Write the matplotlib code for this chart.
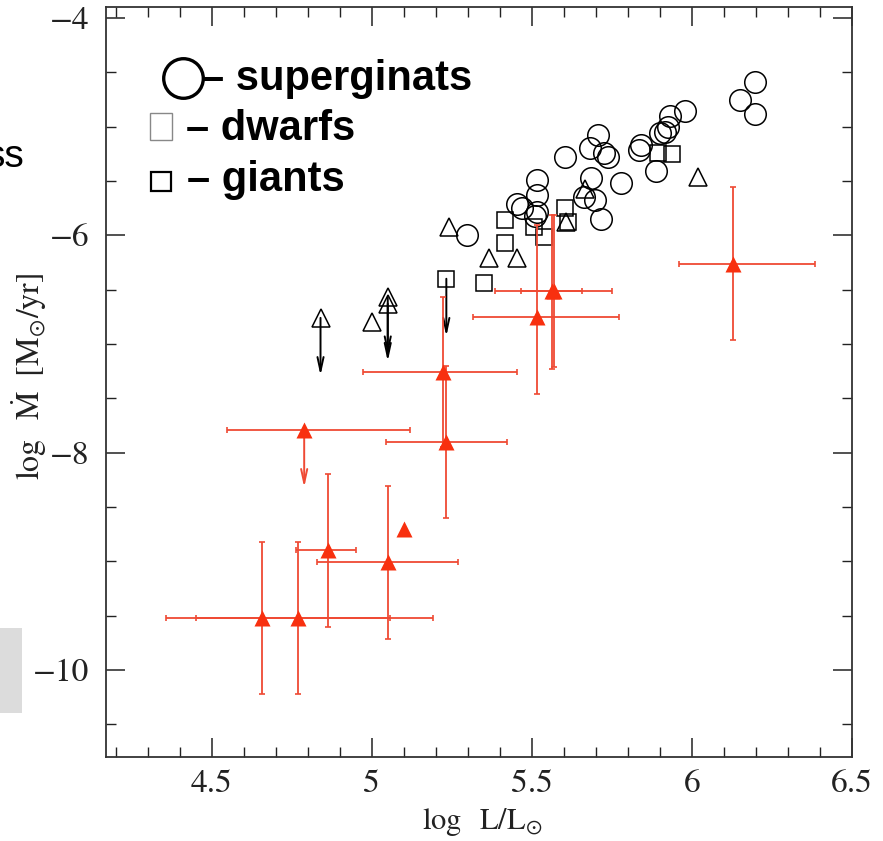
import numpy as np
import matplotlib
matplotlib.use("Agg")
import matplotlib.pyplot as plt
from matplotlib.patches import Rectangle
from matplotlib.ticker import MultipleLocator, FuncFormatter

# supergiants (open circles)
sg_logL = [6.198, 6.151, 6.198, 5.978, 5.931, 5.925, 5.915, 5.899, 5.840, 5.836,
           5.887, 5.708, 5.682, 5.726, 5.739, 5.604, 5.686, 5.777, 5.664, 5.698,
           5.717, 5.516, 5.516, 5.453, 5.469, 5.516, 5.509, 5.296]
sg_logM = [-4.59, -4.76, -4.88, -4.86, -4.90, -5.00, -5.05, -5.06, -5.17, -5.22,
           -5.41, -5.08, -5.20, -5.24, -5.28, -5.28, -5.47, -5.52, -5.65, -5.68,
           -5.85, -5.49, -5.63, -5.71, -5.75, -5.79, -5.82, -6.00]

# giants (open squares)
gi_logL = [5.893, 5.937, 5.604, 5.613, 5.415, 5.506, 5.538, 5.415, 5.233, 5.352]
gi_logM = [-5.24, -5.25, -5.75, -5.88, -5.86, -5.92, -6.02, -6.07, -6.40, -6.44]
gi_limit = [False, False, False, False, False, False, False, False, True, False]

# open triangles
tr_logL = [6.019, 5.667, 5.607, 5.242, 5.365, 5.453, 5.050, 5.050, 5.000, 4.840]
tr_logM = [-5.46, -5.57, -5.88, -5.92, -6.21, -6.21, -6.57, -6.63, -6.80, -6.76]
tr_limit = [False, False, False, False, False, False, True, True, False, True]

# red filled triangles with error bars
rd_logL = [6.129, 5.569, 5.562, 5.516, 5.223, 5.233, 4.789, 5.101, 4.862, 5.050, 4.657, 4.770]
rd_logM = [-6.26, -6.51, -6.51, -6.75, -7.26, -7.90, -7.79, -8.70, -8.90, -9.01, -9.52, -9.52]
rd_xlo = [0.170, 0.185, 0.095, 0.200, 0.250, 0.190, 0.240, 0.0, 0.100, 0.220, 0.300, 0.320]
rd_xhi = [0.255, 0.180, 0.095, 0.255, 0.230, 0.190, 0.330, 0.0, 0.090, 0.220, 0.400, 0.420]
rd_ylo = [0.70, 0.70, 0.72, 0.71, 0.69, 0.70, 0.0, 0.0, 0.70, 0.70, 0.70, 0.70]
rd_yhi = [0.70, 0.70, 0.70, 0.84, 0.69, 0.70, 0.0, 0.0, 0.70, 0.70, 0.70, 0.70]
rd_limit = [False, False, False, False, False, False, True, False, False, False, False, False]

LIMIT_LEN = 0.53
RED_MARK = "#f8300f"
RED_LINE = "#ef4a34"

plt.rcParams["mathtext.fontset"] = "stix"

fig = plt.figure(figsize=(8.83, 8.41), dpi=100)
W, H = 883, 841
ax = fig.add_axes([106 / W, 1 - 757 / H, (852 - 106) / W, (757 - 7) / H])


def limit_arrow(x, y, color):
    ax.annotate("", xy=(x, y - LIMIT_LEN), xytext=(x, y),
                arrowprops=dict(arrowstyle="->,head_length=1.0,head_width=0.22",
                                color=color, lw=1.4, shrinkA=0, shrinkB=0))


ax.plot(sg_logL, sg_logM, "o", ms=15.5, mfc="none", mec="k", mew=1.1, zorder=3)
ax.plot(gi_logL, gi_logM, "s", ms=11.5, mfc="none", mec="k", mew=1.1, zorder=3)
ax.plot(tr_logL, tr_logM, "^", ms=12.5, mfc="none", mec="k", mew=1.1, zorder=3)
for x, y, lim in zip(gi_logL + tr_logL, gi_logM + tr_logM, gi_limit + tr_limit):
    if lim:
        limit_arrow(x, y, "k")

for i in range(len(rd_logL)):
    xe = [[rd_xlo[i]], [rd_xhi[i]]] if rd_xlo[i] + rd_xhi[i] > 0 else None
    ye = [[rd_ylo[i]], [rd_yhi[i]]] if rd_ylo[i] + rd_yhi[i] > 0 else None
    if xe is None and ye is None:
        continue
    ax.errorbar(rd_logL[i], rd_logM[i], xerr=xe, yerr=ye, fmt="none",
                ecolor=RED_LINE, elinewidth=1.3, capsize=2.3, capthick=1.2, zorder=4)
    if rd_limit[i]:
        limit_arrow(rd_logL[i], rd_logM[i], RED_LINE)
ax.plot(rd_logL, rd_logM, "^", ms=11.5, color=RED_MARK, mec="none", zorder=5)

ax.set_xlim(4.17, 6.5)
ax.set_ylim(-10.8, -3.9)
ax.xaxis.set_major_locator(MultipleLocator(0.5))
ax.xaxis.set_minor_locator(MultipleLocator(0.1))
ax.yaxis.set_major_locator(MultipleLocator(2))
ax.yaxis.set_minor_locator(MultipleLocator(0.5))
fmt = FuncFormatter(lambda v, p: ("%g" % v).replace("-", "\u2212"))
ax.xaxis.set_major_formatter(fmt)
ax.yaxis.set_major_formatter(fmt)
ax.tick_params(which="both", direction="in", top=True, right=True,
               colors="#222222", labelcolor="#222222")
ax.tick_params(which="major", length=14, width=1.1, labelsize=24)
ax.tick_params(axis="y", which="major", pad=12)
ax.tick_params(axis="x", which="major", pad=9)
ax.tick_params(which="minor", length=7, width=1.0)
for lab in ax.get_xticklabels() + ax.get_yticklabels():
    lab.set_fontfamily("STIXGeneral")
for s in ax.spines.values():
    s.set_linewidth(1.3)
    s.set_color("#333333")

fig.text(482 / W, 1 - 822 / H, r"$\log\ \ {\rm L/L}_{\odot}$", fontsize=22,
         ha="center", va="center", color="#222222")
fig.text(29 / W, 1 - 376 / H, r"$\log\ \ \dot{\rm M}\ \ [{\rm M}_{\odot}/{\rm yr}]$",
         fontsize=23, rotation=90, ha="center", va="center", color="#222222")

# overlay in pixel coordinates for the slide annotations
ov = fig.add_axes([0, 0, 1, 1], facecolor="none", zorder=10)
ov.set_xlim(0, W)
ov.set_ylim(H, 0)
ov.axis("off")
ov.add_patch(Rectangle((0, 628), 22, 85, color="#dcdcdc", lw=0))
ov.text(25, 167, "ss", ha="right", va="baseline", fontsize=28, family="Liberation Sans")

ov.plot([183], [78], "o", ms=28.5, mfc="none", mec="k", mew=2.4)
ov.text(201, 90, "\u2013 superginats", fontsize=30, fontweight="bold",
        family="Liberation Sans", va="baseline")
ov.add_patch(Rectangle((150, 113), 22, 27, fc="white", ec="#888888", lw=1.0))
ov.text(186, 140, "\u2013 dwarfs", fontsize=30, fontweight="bold",
        family="Liberation Sans", va="baseline")
ov.add_patch(Rectangle((151, 172), 20, 19, fc="white", ec="k", lw=1.6))
ov.text(187, 191, "\u2013 giants", fontsize=30, fontweight="bold",
        family="Liberation Sans", va="baseline")

fig.savefig("out.png", dpi=100)
